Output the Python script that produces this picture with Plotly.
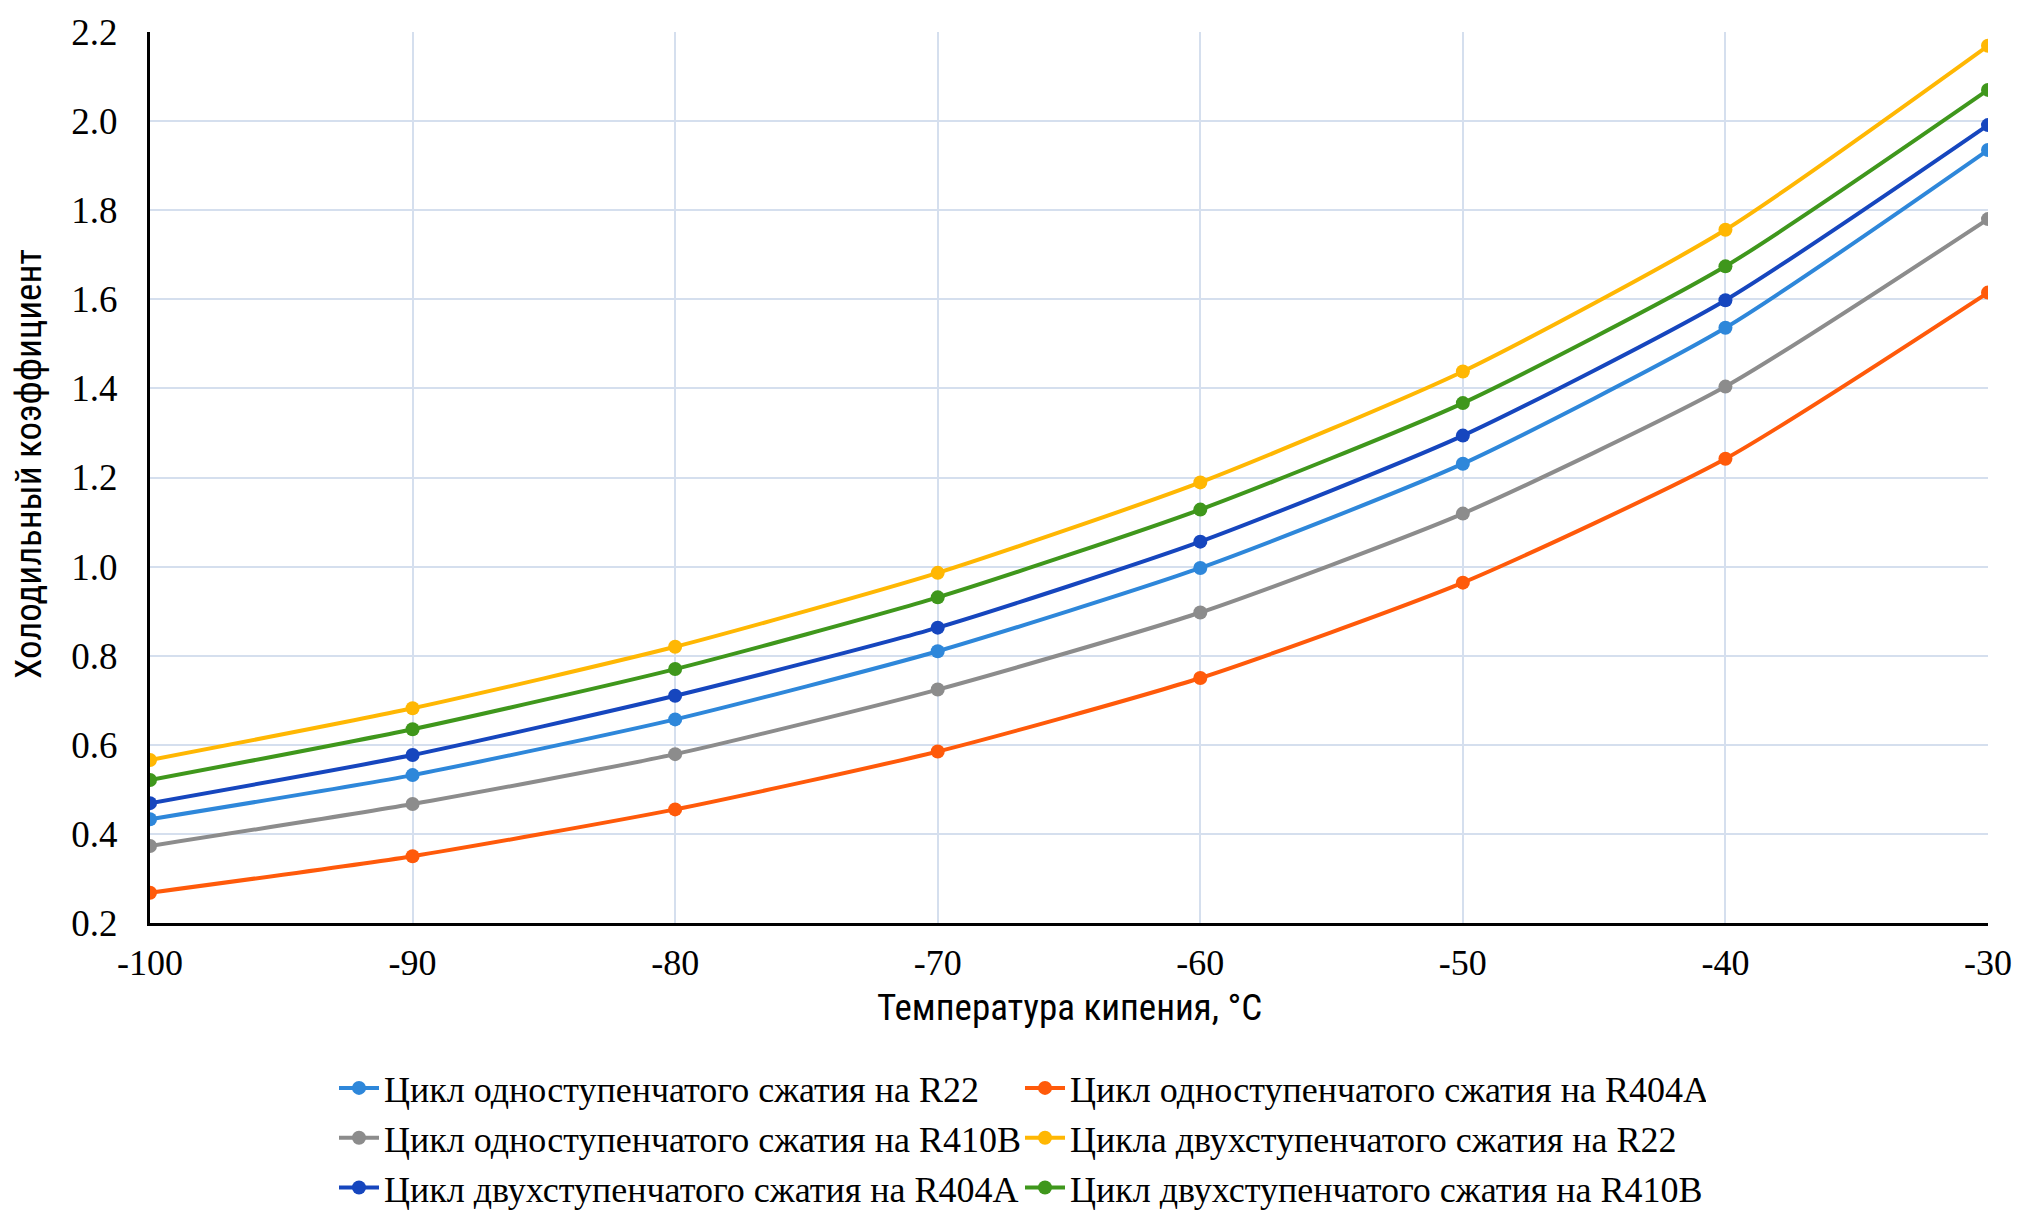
import plotly.graph_objects as go

temps = [-100, -90, -80, -70, -60, -50, -40, -30]

r22_single = [0.433, 0.532, 0.657, 0.810, 0.997, 1.231, 1.536, 1.935]
r404a_single = [0.268, 0.350, 0.455, 0.585, 0.750, 0.964, 1.242, 1.615]
r410b_single = [0.373, 0.467, 0.579, 0.724, 0.897, 1.119, 1.404, 1.780]
r22_two = [0.566, 0.682, 0.820, 0.986, 1.189, 1.438, 1.756, 2.169]
r404a_two = [0.469, 0.577, 0.710, 0.863, 1.056, 1.294, 1.598, 1.991]
r410b_two = [0.521, 0.635, 0.770, 0.931, 1.128, 1.367, 1.674, 2.070]

series = [
    ("Цикл одноступенчатого сжатия на R22", r22_single, "#2E87DA"),
    ("Цикл одноступенчатого сжатия на R404A", r404a_single, "#FF5A0A"),
    ("Цикл одноступенчатого сжатия на R410B", r410b_single, "#8C8C8C"),
    ("Цикла двухступенчатого сжатия на R22", r22_two, "#FFB703"),
    ("Цикл двухступенчатого сжатия на R404A", r404a_two, "#1646BE"),
    ("Цикл двухступенчатого сжатия на R410B", r410b_two, "#3F971C"),
]

x_ticks = [-100, -90, -80, -70, -60, -50, -40, -30]
y_ticks = [0.2, 0.4, 0.6, 0.8, 1.0, 1.2, 1.4, 1.6, 1.8, 2.0, 2.2]

fig = go.Figure()
for name, vals, col in series:
    fig.add_trace(go.Scatter(
        x=temps, y=vals, name=name, mode="lines+markers",
        line=dict(color=col, width=4, shape="spline", smoothing=0.6),
        marker=dict(color=col, size=14),
    ))

# page body has an 8px margin; figure sized so it fits the 2023x1228 window
W, H = 2007, 1212
L, R, T, B = 142, 27, 24, 297
PW = W - L - R
PH = H - T - B
PB = H - B  # plot bottom in figure pixels

serif = "Liberation Serif, Times New Roman, serif"
sans_c = "Roboto Condensed, Liberation Sans Narrow, DejaVu Sans Condensed, Roboto, sans-serif"

fig.update_layout(
    width=W, height=H,
    margin=dict(l=L, r=R, t=T, b=B, autoexpand=False),
    paper_bgcolor="white", plot_bgcolor="white",
    font=dict(family=serif, size=37, color="black"),
    showlegend=True,
    legend=dict(
        orientation="h", x=(326 - L) / PW, xanchor="left",
        y=(PB - 1050) / PH, yanchor="top",
        font=dict(family=serif, size=36, color="black"),
        entrywidth=631, entrywidthmode="pixels",
        itemwidth=40, tracegroupgap=0, bgcolor="rgba(0,0,0,0)",
    ),
    xaxis=dict(
        range=[-100, -30], tickvals=x_ticks, ticktext=[str(v) for v in x_ticks],
        showgrid=True, gridcolor="#D5DFEE", gridwidth=1.5,
        showline=True, linecolor="black", linewidth=3,
        zeroline=False, ticks="", ticklabelstandoff=6,
        tickfont=dict(family=serif, size=36, color="black"),
    ),
    yaxis=dict(
        range=[0.2, 2.2], tickvals=y_ticks, ticktext=[f"{v:.1f}" for v in y_ticks],
        showgrid=True, gridcolor="#D5DFEE", gridwidth=1.5,
        showline=True, linecolor="black", linewidth=3,
        zeroline=False, ticks="", ticklabelstandoff=22,
        tickfont=dict(family=serif, size=37, color="black"),
    ),
    annotations=[
        dict(text="Температура кипения, °С", xref="paper", yref="paper",
             x=0.5, y=(PB - 999) / PH, xanchor="center", yanchor="middle",
             showarrow=False, font=dict(family=sans_c, size=37, color="black")),
        dict(text="Холодильный коэффициент", xref="paper", yref="paper",
             x=(20 - L) / PW, y=(PB - 456) / PH,
             xanchor="center", yanchor="middle", textangle=-90,
             showarrow=False, font=dict(family=sans_c, size=37, color="black")),
    ],
)

fig.write_html("out.html")
